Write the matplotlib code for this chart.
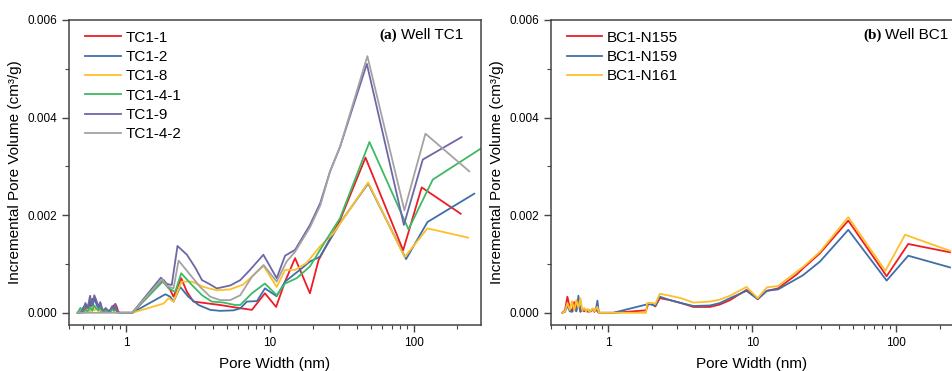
import numpy as np
import matplotlib
matplotlib.use("Agg")
import matplotlib.pyplot as plt
from matplotlib.ticker import FixedLocator, NullFormatter, LogLocator, MultipleLocator, FormatStrFormatter

plt.rcParams['font.family'] = ['Liberation Sans', 'DejaVu Sans']

# ---- panel (a) Well TC1 ----
noise_x_a = [0.46, 0.48, 0.50, 0.52, 0.54, 0.56, 0.58, 0.60, 0.62, 0.64, 0.66, 0.68,
             0.70, 0.72, 0.74, 0.76, 0.78, 0.80, 0.82, 0.84, 0.86, 0.88, 0.90]

tc1_1_noise = [0, 0, 0.2, 0.8, 1.5, 1.2, 2.8, 3.0, 2.2, 1.5, 0.5, 0.2, 0.6, 0.3, 0.2, 0.4, 0.5, 0.8, 1.5, 1.8, 1.2, 0.2, 0]
tc1_2_noise = [0, 0, 1.0, 1.6, 0.5, 2.5, 1.0, 3.0, 1.8, 0.8, 2.0, 0.6, 0.3, 0.8, 0.5, 0.2, 0.6, 1.2, 0.5, 1.5, 0.3, 0.1, 0]
tc1_8_noise = [0, 0, 0.4, 0, 0.8, 0.3, 1.2, 0.5, 1.0, 0.3, 0.6, 0.2, 0.4, 0.1, 0.3, 0.5, 0.2, 0.6, 0.3, 0.7, 0.2, 0, 0]
tc1_41_noise = [0, 1.0, 0, 0.6, 0.3, 1.2, 0.4, 1.5, 0.8, 0.5, 1.0, 0.3, 0.2, 0.6, 0.2, 0.4, 0.3, 0.9, 0.4, 0.8, 0.2, 0, 0]
tc1_9_noise = [0, 0, 0.5, 2.0, 1.0, 3.5, 1.5, 3.6, 2.5, 1.2, 2.2, 0.8, 0.5, 1.0, 0.6, 0.3, 0.8, 1.4, 0.7, 1.8, 0.4, 0.1, 0]
tc1_42_noise = [0, 0, 0, 0, 0, 0, 0, 0, 0, 0, 0, 0, 0, 0, 0, 0, 0, 0, 0, 0, 0, 0, 0]

tc1_1_x = [1.1, 1.82, 2.02, 2.13, 2.41, 2.64, 2.93, 4.49, 5.7, 7.47, 9.2, 11.0, 12.7, 14.9, 18.9, 21.7, 30.6, 46, 84, 113, 211]
tc1_1_y = [0, 0.00067, 0.00047, 0.00033, 0.00071, 0.00043, 0.00023, 0.00016, 0.00011, 0.00006, 0.0004, 0.00012,
           0.00064, 0.00112, 0.0004, 0.00108, 0.0019, 0.00318, 0.00128, 0.00257, 0.00203]

tc1_2_x = [1.1, 1.87, 2.02, 2.13, 2.37, 2.7, 3.18, 3.83, 4.49, 5.56, 6.2, 6.88, 8.1, 9.2, 11.1, 12.7, 16.1, 18.9, 22.2, 30.6, 48, 88, 124, 262]
tc1_2_y = [0, 0.00038, 0.00033, 0.00023, 0.00053, 0.00033, 0.00016, 0.00006, 0.00004, 0.00005, 0.00009, 0.00023,
           0.00024, 0.0005, 0.00034, 0.00064, 0.00088, 0.00105, 0.00115, 0.00184, 0.00265, 0.0011, 0.00186, 0.00244]

tc1_8_x = [1.1, 1.82, 1.97, 2.13, 2.43, 2.86, 3.44, 4.26, 5.28, 6.5, 9.0, 11.1, 12.7, 14.9, 17.9, 22.2, 27.5, 48, 86, 124, 238]
tc1_8_y = [0, 0.00019, 0.0003, 0.00023, 0.00064, 0.00064, 0.00053, 0.00046, 0.00048, 0.00058, 0.00096, 0.00053,
           0.00088, 0.00088, 0.00102, 0.00136, 0.00163, 0.00267, 0.00114, 0.00173, 0.00154]

tc1_41_x = [1.1, 1.79, 1.97, 2.19, 2.41, 2.86, 3.36, 3.93, 4.74, 5.7, 6.2, 7.47, 9.2, 11.1, 12.7, 15.3, 18.9, 24.6, 30.6, 49, 91.5, 135, 300]
tc1_41_y = [0, 0.00064, 0.0005, 0.00043, 0.00081, 0.00057, 0.00036, 0.00023, 0.00021, 0.00016, 0.00016, 0.0004,
            0.0006, 0.00036, 0.0006, 0.00071, 0.00095, 0.0015, 0.00194, 0.0035, 0.00171, 0.00273, 0.00339]

tc1_9_x = [1.1, 1.74, 1.92, 2.07, 2.27, 2.64, 3.01, 3.36, 3.73, 4.26, 5.28, 6.2, 7.25, 8.97, 11.1, 12.7, 14.9, 18.9, 22.3, 26.1, 30.6, 47, 85, 115, 214]
tc1_9_y = [0, 0.00072, 0.00059, 0.00057, 0.00137, 0.00119, 0.00093, 0.00067, 0.0006, 0.0005, 0.00056, 0.00067,
           0.00088, 0.00119, 0.00071, 0.00117, 0.00129, 0.0018, 0.00225, 0.0029, 0.0034, 0.0051, 0.0018, 0.00314, 0.0036]

tc1_42_x = [1.1, 1.77, 1.92, 2.13, 2.31, 2.78, 3.26, 3.83, 4.49, 5.28, 6.2, 7.47, 9.0, 11.1, 13.0, 14.9, 18.9, 22.3, 26.1, 30.6, 47.4, 85.7, 120, 242]
tc1_42_y = [0, 0.00069, 0.00055, 0.0005, 0.00107, 0.00078, 0.00053, 0.00033, 0.00026, 0.00026, 0.00036, 0.00074,
            0.00098, 0.00064, 0.00105, 0.00125, 0.00175, 0.0022, 0.0029, 0.0034, 0.00526, 0.0021, 0.00367, 0.0029]

# ---- panel (b) Well BC1 ----
noise_x_b = [0.48, 0.50, 0.52, 0.54, 0.56, 0.58, 0.60, 0.62, 0.64, 0.66, 0.68, 0.70,
             0.72, 0.74, 0.76, 0.78, 0.80, 0.82, 0.84, 0.86]
n155_noise = [0, 0.5, 3.3, 1.0, 0.3, 2.2, 0.5, 2.5, 0.2, 0.8, 0.3, 0.6, 0.2, 0.5, 0.3, 0.8, 0.2, 1.0, 0.3, 0]
n159_noise = [0, 0.2, 1.5, 0.3, 0.2, 0.8, 0.3, 3.5, 0.3, 0.5, 0.8, 0.3, 0.6, 0.2, 0.4, 0.8, 0.3, 0.6, 2.5, 0]
n161_noise = [0, 0.3, 2.0, 0.6, 2.4, 0.5, 2.6, 1.0, 3.0, 0.5, 1.0, 0.3, 0.8, 0.2, 0.5, 0.9, 0.3, 0.8, 1.2, 0]

n155_x = [1.08, 1.83, 1.9, 2.05, 2.12, 2.28, 2.68, 3.2, 3.9, 5.08, 5.96, 7.0, 9.12, 10.9, 12.6, 15.1, 20.2, 22.5, 29.5, 46.4, 85.7, 121, 236]
n155_y = [0, 0.00005, 0.0002, 0.00016, 0.00013, 0.0003, 0.00026, 0.0002, 0.00012, 0.00012, 0.00017, 0.00026,
          0.00047, 0.00028, 0.00045, 0.0005, 0.00078, 0.00091, 0.00122, 0.00189, 0.00075, 0.00141, 0.00124]

n159_x = [1.08, 1.9, 2.05, 2.12, 2.28, 2.68, 3.2, 3.9, 5.08, 5.96, 7.0, 9.12, 10.9, 12.6, 15.1, 22.5, 29.5, 46.4, 85.7, 121, 236]
n159_y = [0, 0.00018, 0.00016, 0.00014, 0.00033, 0.00026, 0.0002, 0.00014, 0.00015, 0.0002, 0.0003, 0.00045,
          0.00028, 0.00045, 0.00048, 0.00077, 0.00105, 0.0017, 0.00066, 0.00117, 0.00093]

n161_x = [1.08, 1.83, 1.86, 2.05, 2.12, 2.28, 2.68, 3.2, 3.9, 5.08, 5.96, 7.0, 9.12, 10.9, 12.6, 15.1, 22.5, 29.5, 46.4, 84, 115, 236]
n161_y = [0, 0, 0.0002, 0.0002, 0.00018, 0.00039, 0.00035, 0.0003, 0.00021, 0.00023, 0.00027, 0.00035, 0.00053,
          0.0003, 0.00052, 0.00055, 0.00094, 0.00125, 0.00196, 0.00086, 0.0016, 0.00127]

RED = '#ee1c25'
BLUE = '#3f6fa8'
YELLOW = '#fdc02a'
GREEN = '#3dba63'
PURPLE = '#6c68a8'
GRAY = '#a3a3a3'


def join(nx, ny, x, y):
    return list(nx) + list(x), [v * 1e-4 for v in ny] + list(y)


def style_axes(ax, xmax, label, tag, tag_r, text_r, hide_right=False):
    ax.set_xscale('log')
    ax.set_xlim(0.4, xmax)
    ax.set_ylim(-0.00025, 0.006)
    ax.yaxis.set_major_locator(MultipleLocator(0.002))
    ax.yaxis.set_minor_locator(MultipleLocator(0.001))
    ax.yaxis.set_major_formatter(FormatStrFormatter('%.3f'))
    ax.xaxis.set_major_locator(FixedLocator([1, 10, 100]))
    ax.set_xticklabels(['1', '10', '100'])
    ax.xaxis.set_minor_locator(LogLocator(base=10, subs=np.arange(2, 10)))
    ax.xaxis.set_minor_formatter(NullFormatter())
    ax.tick_params(which='major', direction='out', length=5, width=1, color='#444444',
                   labelsize=8.5, top=False, right=False)
    ax.tick_params(which='minor', direction='out', length=3, width=0.8, color='#444444',
                   top=False, right=False)
    for s in ax.spines.values():
        s.set_color('#444444')
        s.set_linewidth(1.1)
    if hide_right:
        ax.spines['right'].set_visible(False)
    ax.set_xlabel('Pore Width (nm)', fontsize=11, labelpad=6)
    ax.set_ylabel('Incremental Pore Volume (cm³/g)', fontsize=11, labelpad=4)
    ax.text(tag_r, 0.951, tag, transform=ax.transAxes, ha='right', va='center',
            fontsize=11, fontweight='bold', family=['Liberation Serif', 'DejaVu Serif'])
    ax.text(text_r, 0.951, label, transform=ax.transAxes, ha='right', va='center', fontsize=11)
    ax.legend(loc='upper left', frameon=False, fontsize=11, handlelength=2.3,
              handletextpad=0.3, labelspacing=0.35, borderaxespad=0.0,
              bbox_to_anchor=(0.025, 0.985))


fig = plt.figure(figsize=(9.53, 3.71), dpi=100)
ax1 = fig.add_axes([69 / 953, 46 / 371, 412 / 953, 305 / 371])
ax2 = fig.add_axes([551 / 953, 46 / 371, 402 / 953, 305 / 371])

lw = 1.3
series_a = [
    ('TC1-1', RED, tc1_1_noise, tc1_1_x, tc1_1_y),
    ('TC1-2', BLUE, tc1_2_noise, tc1_2_x, tc1_2_y),
    ('TC1-8', YELLOW, tc1_8_noise, tc1_8_x, tc1_8_y),
    ('TC1-4-1', GREEN, tc1_41_noise, tc1_41_x, tc1_41_y),
    ('TC1-9', PURPLE, tc1_9_noise, tc1_9_x, tc1_9_y),
    ('TC1-4-2', GRAY, tc1_42_noise, tc1_42_x, tc1_42_y),
]
for name, c, nz, x, y in series_a:
    xx, yy = join(noise_x_a, nz, x, y)
    ax1.plot(xx, yy, color=c, lw=lw, label=name)

series_b = [
    ('BC1-N155', RED, n155_noise, n155_x, n155_y),
    ('BC1-N159', BLUE, n159_noise, n159_x, n159_y),
    ('BC1-N161', YELLOW, n161_noise, n161_x, n161_y),
]
for name, c, nz, x, y in series_b:
    xx, yy = join(noise_x_b, nz, x, y)
    ax2.plot(xx, yy, color=c, lw=lw, label=name)

style_axes(ax1, 292, 'Well TC1', '(a)', 0.796, 0.956)
style_axes(ax2, 247.6, 'Well BC1', '(b)', 0.823, 0.987, hide_right=True)

fig.savefig('out.png', dpi=100)
